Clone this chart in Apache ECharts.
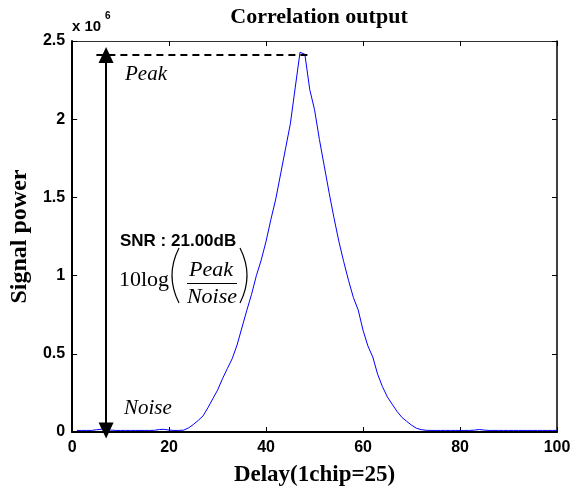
<!DOCTYPE html>
<html>
<head>
<meta charset="utf-8">
<script src="https://cdn.jsdelivr.net/npm/echarts@6/dist/echarts.min.js"></script>
<style>html,body{margin:0;padding:0;background:#fff;}#c{width:581px;height:492px;}</style>
</head>
<body>
<div id="c"></div>
<script>
// Delay samples (chips*25) and signal power (x 10^6)
const delays = [];
for (let i = 1; i <= 100; i++) delays.push(i);
const power = [
  0.010, 0.010, 0.010, 0.010, 0.014, 0.018, 0.017, 0.012, 0.010, 0.010,
  0.010, 0.010, 0.010, 0.010, 0.010, 0.010, 0.011, 0.016, 0.017, 0.012,
  0.010, 0.010, 0.012, 0.026, 0.048, 0.074, 0.103, 0.155, 0.212, 0.268,
  0.340, 0.405, 0.468, 0.555, 0.665, 0.775, 0.880, 1.000, 1.100, 1.220,
  1.360, 1.490, 1.650, 1.810, 1.970, 2.200, 2.428, 2.415, 2.190, 2.060,
  1.870, 1.700, 1.530, 1.370, 1.220, 1.090, 0.970, 0.860, 0.780, 0.650,
  0.550, 0.480, 0.370, 0.290, 0.225, 0.178, 0.132, 0.094, 0.068, 0.044,
  0.024, 0.015, 0.011, 0.010, 0.010, 0.010, 0.010, 0.010, 0.010, 0.010,
  0.010, 0.010, 0.012, 0.016, 0.012, 0.010, 0.010, 0.010, 0.010, 0.010,
  0.010, 0.010, 0.010, 0.010, 0.010, 0.010, 0.010, 0.010, 0.010, 0.010
];
const xTicks = [0, 20, 40, 60, 80, 100];
const yTicks = [0, 0.5, 1, 1.5, 2, 2.5];
const peakLevel = 2.41;
const noiseLevel = 0.01;
const arrowDelay = 7;
const dashFrom = 5, dashTo = 49;

const chart = echarts.init(document.getElementById('c'));
const serif = 'Liberation Serif, Times New Roman, serif';
const sans = 'Liberation Sans, Arial, sans-serif';
const axisCommon = {
  type: 'value',
  splitLine: { show: false },
  axisLine: { show: true, onZero: false, lineStyle: { color: '#000', width: 2 } },
  axisTick: { show: true, inside: true, length: 5, lineStyle: { color: '#000', width: 1 } },
  axisLabel: { color: '#000', fontFamily: sans, fontWeight: 'bold', fontSize: 16 }
};
chart.setOption({
  animation: false,
  backgroundColor: '#fff',
  title: {
    text: 'Correlation output', left: 314, top: 1, textAlign: 'center',
    textStyle: { fontFamily: serif, fontWeight: 'bold', fontSize: 22, color: '#000' }
  },
  grid: { left: 72, right: 24, top: 41, bottom: 57 },
  xAxis: [
    Object.assign({}, axisCommon, {
      min: xTicks[0], max: xTicks[xTicks.length - 1], interval: 20,
      name: 'Delay(1chip=25)', nameLocation: 'middle', nameGap: 32,
      nameTextStyle: { fontFamily: serif, fontWeight: 'bold', fontSize: 23, color: '#000' },
      axisLabel: Object.assign({}, axisCommon.axisLabel, { margin: 8 })
    }),
    Object.assign({}, axisCommon, {
      position: 'top', min: 0, max: 100, interval: 20,
      axisLine: { show: true, onZero: false, lineStyle: { color: '#333', width: 1 } },
      axisLabel: { show: false }
    })
  ],
  yAxis: [
    Object.assign({}, axisCommon, {
      min: yTicks[0], max: yTicks[yTicks.length - 1], interval: 0.5,
      name: 'Signal power', nameLocation: 'middle', nameGap: 39, nameRotate: 90,
      nameTextStyle: { fontFamily: serif, fontWeight: 'bold', fontSize: 24, color: '#000' },
      axisLabel: Object.assign({}, axisCommon.axisLabel, { margin: 7 })
    }),
    Object.assign({}, axisCommon, {
      position: 'right', min: 0, max: 2.5, interval: 0.5,
      axisLine: { show: true, onZero: false, lineStyle: { color: '#000', width: 1.5 } },
      axisLabel: { show: false }
    })
  ],
  series: [
    {
      type: 'line',
      data: delays.map((d, i) => [d, power[i]]),
      showSymbol: false,
      lineStyle: { color: '#0000ff', width: 1 },
      silent: true,
      markLine: {
        silent: true,
        animation: false,
        label: { show: false },
        data: [
          [
            { coord: [dashFrom, peakLevel], symbol: 'none', lineStyle: { type: [7, 5], width: 2, color: '#000' } },
            { coord: [dashTo, peakLevel], symbol: 'none' }
          ],
          [
            { coord: [arrowDelay, noiseLevel], symbol: 'triangle', symbolSize: [15, 16], lineStyle: { type: 'solid', width: 2, color: '#000' } },
            { coord: [arrowDelay, peakLevel], symbol: 'triangle', symbolSize: [15, 16] }
          ]
        ],
        itemStyle: { color: '#000' }
      }
    }
  ],
  graphic: [
    { type: 'text', left: 72, top: 19, style: { text: 'x 10', font: 'bold 15px ' + sans, fill: '#000' } },
    { type: 'text', left: 105, top: 11, style: { text: '6', font: 'bold 10px ' + sans, fill: '#000' } },
    { type: 'text', left: 125, top: 64, style: { text: 'Peak', font: 'italic 21px ' + serif, fill: '#000' } },
    { type: 'text', left: 124, top: 398, style: { text: 'Noise', font: 'italic 21px ' + serif, fill: '#000' } },
    { type: 'text', left: 120, top: 233, style: { text: 'SNR : 21.00dB', font: 'bold 17px ' + sans, fill: '#000' } },
    { type: 'text', left: 119, top: 269, style: { text: '10log', font: '22px ' + serif, fill: '#000' } },
    { type: 'text', x: 211, y: 270, style: { text: 'Peak', font: 'italic 22px ' + serif, fill: '#000', textAlign: 'center', textVerticalAlign: 'middle' } },
    { type: 'text', x: 212, y: 297, style: { text: 'Noise', font: 'italic 22px ' + serif, fill: '#000', textAlign: 'center', textVerticalAlign: 'middle' } },
    { type: 'line', shape: { x1: 187, y1: 283.5, x2: 237, y2: 283.5 }, style: { stroke: '#000', lineWidth: 1 } },
    { type: 'bezierCurve', shape: { x1: 179, y1: 248, x2: 179, y2: 303, cpx1: 165, cpy1: 275.5 }, style: { stroke: '#000', lineWidth: 1.2, fill: null } },
    { type: 'bezierCurve', shape: { x1: 240, y1: 248, x2: 240, y2: 303, cpx1: 254, cpy1: 275.5 }, style: { stroke: '#000', lineWidth: 1.2, fill: null } }
  ]
});
</script>
</body>
</html>
